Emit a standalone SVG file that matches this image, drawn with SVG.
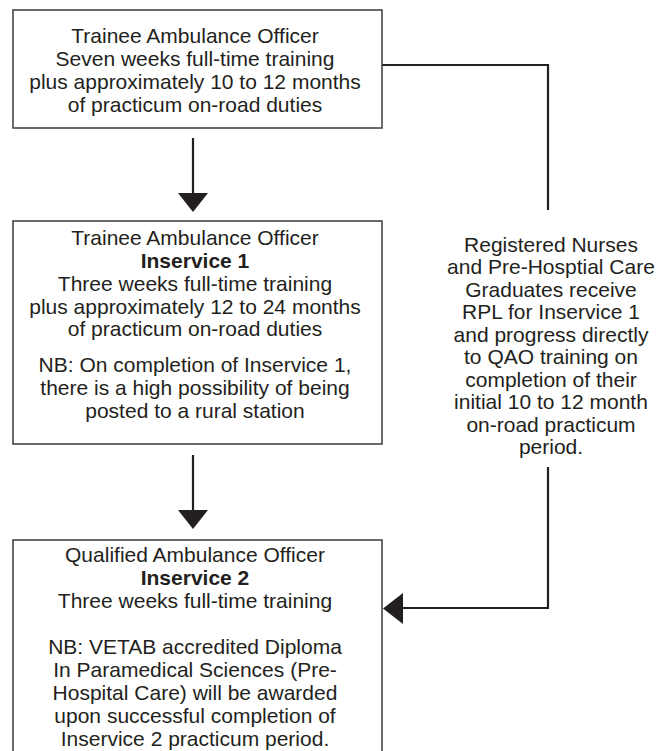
<svg xmlns="http://www.w3.org/2000/svg" width="666" height="751" viewBox="0 0 666 751">
<style>
  .box { fill: #ffffff; stroke: #3a3a3a; stroke-width: 1.5; }
  .t { font-family: "Liberation Sans", Arial, sans-serif; font-size: 21px; fill: #231f20; text-anchor: middle; }
  .b { font-weight: bold; }
  .conn { fill: none; stroke: #231f20; stroke-width: 2.2; }
  .head { fill: #231f20; stroke: none; }
</style>
<rect width="666" height="751" fill="#ffffff"/>
<g id="connectors">
  <line class="conn" x1="193" y1="138" x2="193" y2="196"/>
  <polygon class="head" points="178,193 208,193 193,212"/>
  <line class="conn" x1="193" y1="455" x2="193" y2="513"/>
  <polygon class="head" points="178,510 208,510 193,529"/>
  <polyline class="conn" points="382,65 548,65 548,210"/>
  <polyline class="conn" points="548,467 548,608 400,608"/>
  <polygon class="head" points="403,593 403,624 383,608.5"/>
</g>
<g id="node1">
  <rect class="box" x="13" y="10" width="369" height="118"/>
  <text class="t" x="195" y="43">Trainee Ambulance Officer</text>
  <text class="t" x="195" y="66">Seven weeks full-time training</text>
  <text class="t" x="195" y="89">plus approximately 10 to 12 months</text>
  <text class="t" x="195" y="112">of practicum on-road duties</text>
</g>
<g id="node2">
  <rect class="box" x="13" y="221" width="369" height="223"/>
  <text class="t" x="195" y="245">Trainee Ambulance Officer</text>
  <text class="t b" x="195" y="268">Inservice 1</text>
  <text class="t" x="195" y="291">Three weeks full-time training</text>
  <text class="t" x="195" y="314">plus approximately 12 to 24 months</text>
  <text class="t" x="195" y="336">of practicum on-road duties</text>
  <text class="t" x="195" y="372">NB: On completion of Inservice 1,</text>
  <text class="t" x="195" y="395">there is a high possibility of being</text>
  <text class="t" x="195" y="418">posted to a rural station</text>
</g>
<g id="node3">
  <rect class="box" x="13" y="540" width="369" height="230"/>
  <text class="t" x="195" y="562">Qualified Ambulance Officer</text>
  <text class="t b" x="195" y="585">Inservice 2</text>
  <text class="t" x="195" y="608">Three weeks full-time training</text>
  <text class="t" x="195" y="654">NB: VETAB accredited Diploma</text>
  <text class="t" x="195" y="677">In Paramedical Sciences (Pre-</text>
  <text class="t" x="195" y="700">Hospital Care) will be awarded</text>
  <text class="t" x="195" y="723">upon successful completion of</text>
  <text class="t" x="195" y="746">Inservice 2 practicum period.</text>
</g>
<g id="rpl-note">
  <text class="t" x="551" y="252">Registered Nurses</text>
  <text class="t" x="551" y="274">and Pre-Hosptial Care</text>
  <text class="t" x="551" y="297">Graduates receive</text>
  <text class="t" x="551" y="319">RPL for Inservice 1</text>
  <text class="t" x="551" y="342">and progress directly</text>
  <text class="t" x="551" y="364">to QAO training on</text>
  <text class="t" x="551" y="387">completion of their</text>
  <text class="t" x="551" y="409">initial 10 to 12 month</text>
  <text class="t" x="551" y="432">on-road practicum</text>
  <text class="t" x="551" y="454">period.</text>
</g>
</svg>
